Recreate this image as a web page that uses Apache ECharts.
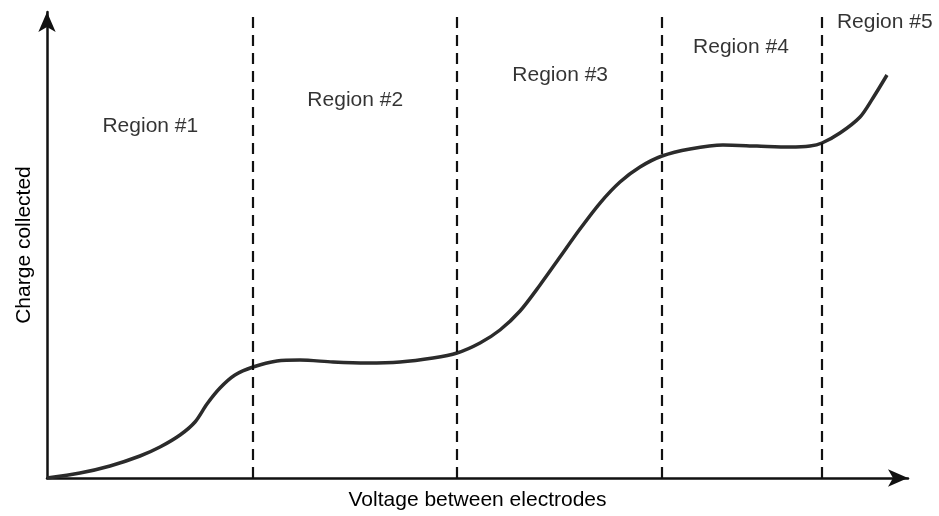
<!DOCTYPE html>
<html>
<head>
<meta charset="utf-8">
<script src="https://cdn.jsdelivr.net/npm/echarts@6/dist/echarts.min.js"></script>
<style>html,body{margin:0;padding:0;background:#fff}#c{width:939px;height:516px}</style>
</head>
<body>
<div id="c"></div>
<script>
// Curve: charge collected vs voltage (arbitrary units 0-100)
const curveX = [0, 3.83, 7.32, 10.80, 13.12, 15.45, 17.19, 18.58, 20.09, 21.83, 23.93, 26.71, 29.38, 33.22, 37.17, 41.00, 44.83, 47.62, 50.29, 52.61, 54.94, 57.26, 59.58, 61.90, 64.23, 66.55, 68.87, 71.43, 74.68, 78.51, 82.46, 86.29, 88.62, 90.01, 92.10, 94.43, 95.93, 97.56];
const curveY = [0, 1.07, 2.58, 4.72, 6.65, 9.23, 12.02, 15.88, 19.31, 22.10, 23.82, 25.11, 25.32, 24.89, 24.68, 24.89, 25.75, 26.82, 28.97, 31.76, 35.84, 41.42, 47.42, 53.43, 59.01, 63.52, 66.74, 69.10, 70.60, 71.46, 71.24, 71.03, 71.24, 71.89, 74.03, 77.47, 81.55, 86.48];
// Region boundaries (dashed lines)
const boundaries = [23.9, 47.6, 71.4, 90.0];
// Region labels
const regionNames = ['Region #1', 'Region #2', 'Region #3', 'Region #4', 'Region #5'];
const regionX = [12.0, 35.8, 59.6, 80.6, 97.3];
const regionY = [75.5, 81.1, 86.5, 92.5, 97.9];
const xName = 'Voltage between electrodes';
const yName = 'Charge collected';

const font = "'Liberation Sans', Arial, Helvetica, sans-serif";
const chart = echarts.init(document.getElementById('c'));
chart.setOption({
  animation: false,
  backgroundColor: '#fff',
  grid: { left: 47, right: 31, top: 12, bottom: 38 },
  xAxis: {
    type: 'value', min: 0, max: 100,
    name: xName, nameLocation: 'middle', nameGap: 12,
    nameTextStyle: { fontFamily: font, fontSize: 21, color: '#000' },
    axisLine: { show: true, symbol: ['none', 'arrow'], symbolSize: [13, 20], symbolOffset: [0, 0],
      lineStyle: { color: '#111', width: 2.5 } },
    axisTick: { show: false }, axisLabel: { show: false }, splitLine: { show: false }
  },
  yAxis: {
    type: 'value', min: 0, max: 100,
    name: yName, nameLocation: 'middle', nameGap: 12,
    nameTextStyle: { fontFamily: font, fontSize: 21, color: '#000' },
    axisLine: { show: true, symbol: ['none', 'arrow'], symbolSize: [13, 20], symbolOffset: [0, 0],
      lineStyle: { color: '#111', width: 2.5 } },
    axisTick: { show: false }, axisLabel: { show: false }, splitLine: { show: false }
  },
  series: [
    {
      type: 'line',
      data: curveX.map((x, i) => [x, curveY[i]]),
      smooth: 0.3,
      showSymbol: false,
      lineStyle: { color: '#2b2b2b', width: 3.5 },
      markLine: {
        silent: true, symbol: ['none', 'none'], label: { show: false },
        lineStyle: { color: '#111', width: 2.2, type: [11, 7] },
        data: boundaries.map(b => ({ xAxis: b }))
      },
      z: 3
    },
    {
      type: 'scatter',
      symbolSize: 0,
      data: regionNames.map((n, i) => ({ name: n, value: [regionX[i], regionY[i]] })),
      label: {
        show: true, position: 'inside', formatter: '{b}',
        fontFamily: font, fontSize: 21, color: '#000'
      }
    }
  ]
});
</script>
</body>
</html>
